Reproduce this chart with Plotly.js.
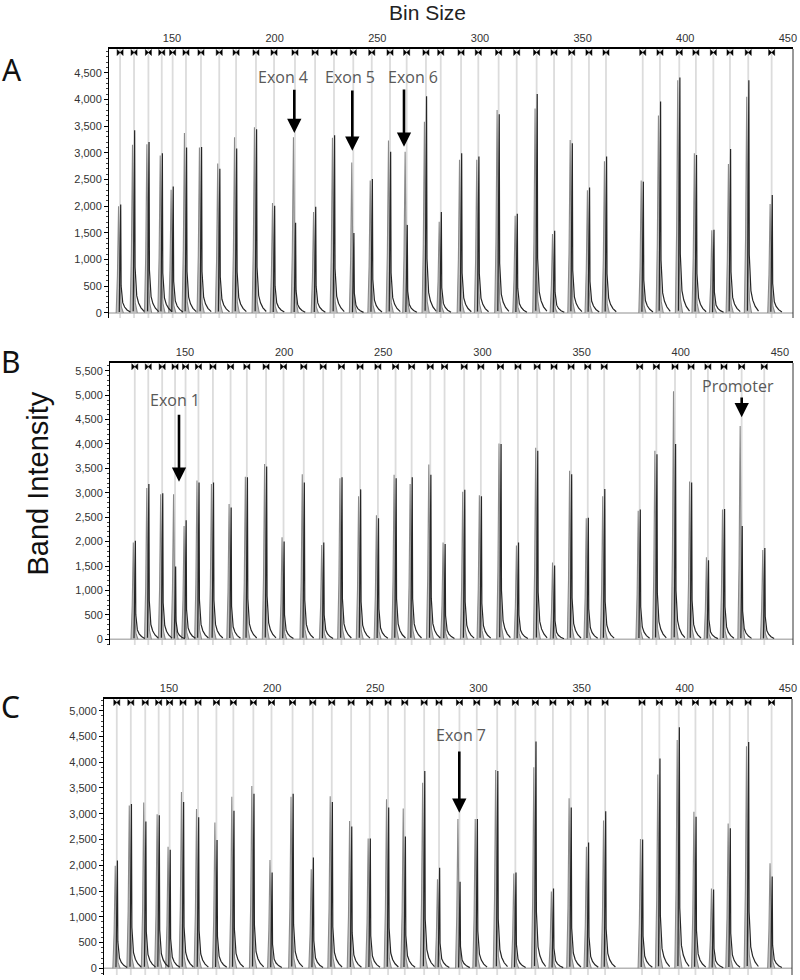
<!DOCTYPE html>
<html>
<head>
<meta charset="utf-8">
<script src="https://cdn.plot.ly/plotly-3.0.1.min.js"></script>
<style>html,body{margin:0;padding:0;background:#fff;}#chart{width:800px;height:980px;}</style>
</head>
<body>
<div id="chart"></div>
<script>
// Bin positions (fragment size, nt)
const bins = [124.7,131.5,138.5,145.0,150.3,156.8,164.1,173.0,181.2,190.9,199.7,209.9,219.7,228.9,238.3,247.3,256.2,264.3,273.7,280.9,290.8,299.2,309.1,317.9,327.6,336.1,344.7,353.1,361.4,379.3,387.7,397.1,405.2,413.7,421.8,430.7,442.1];
const xTicks = [150,200,250,300,350,400,450];

// Panel A peak heights
const refA = [2000,3150,3160,2950,2310,3370,3100,2800,3290,3480,2060,3290,1890,3280,2820,2480,3230,3020,3580,1710,2870,2870,3800,1820,3830,1480,3240,2300,2840,2480,3700,4360,2990,1550,2790,4050,2040];
const smpA = [2030,3420,3200,2990,2370,3100,3110,2700,3080,3440,2010,1690,1990,3330,1500,2510,3020,1650,4060,1890,2990,2930,3720,1860,4100,1540,3180,2350,2930,2460,3960,4410,2960,1560,3070,4360,2210];
// Panel B peak heights
const refB = [1980,3100,2970,2970,2320,3250,3180,2770,3330,3590,2090,3380,1930,3300,2930,2540,3370,3180,3580,1980,3020,2950,4010,1920,3920,1570,3450,2480,2930,2630,3860,5080,3230,1680,2660,4370,1830];
const smpB = [2020,3180,2990,1490,2440,3210,3210,2700,3320,3540,2000,3210,1980,3320,3070,2480,3300,3320,3370,1950,3060,2930,4000,1980,3860,1510,3380,2490,3080,2660,3790,4000,3210,1620,2670,2320,1870];
// Panel C peak heights
const refC = [1990,3160,3220,2990,2360,3420,3090,2830,3330,3540,2100,3330,1920,3340,2860,2520,3280,3100,3600,1730,2900,2900,3850,1840,3900,1490,3300,2360,2870,2510,3760,4430,3040,1550,2810,4310,2040];
const smpC = [2090,3190,2850,2970,2300,3230,2930,2490,3060,3390,1860,3390,2150,3230,2750,2520,3120,2560,3830,1950,1680,2900,3830,1860,4400,1550,3120,2440,3050,2500,4070,4680,2940,1530,2720,4390,1780];

// Peak glyph shapes (offset in nt, fraction of peak height)
const refShape = {dx:[-1.9,-1.3,-0.75,-0.45,-0.1,0.6,1.6], f:[0,0.35,1,0.55,0.25,0.06,0]};
const smpShape = {dx:[-0.4,0.3,0.5,0.8,1.3,2.2,3.4,5.0], f:[0.01,1,0.25,0.15,0.095,0.055,0.028,0.008]};

function peakPath(pos, h, shape){
  const x=[], y=[];
  pos.forEach((p,i)=>{
    shape.dx.forEach((d,j)=>{ x.push(p+d); y.push(h[i]*shape.f[j]); });
    x.push(null); y.push(null);
  });
  return {x, y};
}

const panels = [
  {ref:refA, smp:smpA, xr:[119.3,452.5], yr:[-94,4944], xd:[109/800,793/800], yd:[1-318/980,1-49/980]},
  {ref:refB, smp:smpB, xr:[112.2,456.6], yr:[-117,5658], xd:[110/800,793/800], yd:[1-645/980,1-363/980]},
  {ref:refC, smp:smpC, xr:[118.5,452.0], yr:[-130,5227], xd:[104/800,792/800], yd:[1-975/980,1-699/980]}
];

const data = [];
const layout = {
  width:800, height:980, margin:{l:0,r:0,t:0,b:0},
  paper_bgcolor:'#fff', plot_bgcolor:'#fff', showlegend:false,
  shapes:[], annotations:[]
};
const tickFont = {family:'Liberation Sans, Arial, sans-serif', size:11, color:'#333'};

panels.forEach((pn,k)=>{
  const sfx = k===0 ? '' : String(k+1);
  const xa = 'x'+sfx, ya = 'y'+sfx;
  const r = peakPath(bins, pn.ref, refShape);
  data.push({type:'scatter', mode:'lines', x:r.x, y:r.y, xaxis:xa, yaxis:ya,
    fill:'toself', fillcolor:'rgba(185,185,185,0.9)', line:{color:'#8a8a8a', width:1.1}, hoverinfo:'skip'});
  const s = peakPath(bins, pn.smp, smpShape);
  data.push({type:'scatter', mode:'lines', x:s.x, y:s.y, xaxis:xa, yaxis:ya,
    line:{color:'#262626', width:1.2}, hoverinfo:'skip'});
  const starY = pn.yr[1] - 0.013*(pn.yr[1]-pn.yr[0]);
  data.push({type:'scatter', mode:'markers', x:bins, y:bins.map(()=>starY), xaxis:xa, yaxis:ya,
    marker:{symbol:'bowtie', size:6, color:'#000', line:{color:'#000', width:0.5}}, cliponaxis:false, hoverinfo:'skip'});

  layout['xaxis'+sfx] = {domain:pn.xd, range:pn.xr, anchor:ya, side:'top', showline:true, linecolor:'#000', linewidth:2.5,
    ticks:'', tickvals:xTicks, tickfont:tickFont, showgrid:false, zeroline:false, fixedrange:true};
  layout['yaxis'+sfx] = {domain:pn.yd, range:pn.yr, anchor:xa, showline:true, linecolor:'#000', linewidth:1,
    ticks:'outside', ticklen:4, tickcolor:'#000', tick0:0, dtick:500, tickformat:',d', tickfont:tickFont,
    showgrid:false, zeroline:false, fixedrange:true,
    minor:{tick0:0, dtick:100, ticks:'outside', ticklen:2, tickcolor:'#444'}};

  bins.forEach(b=>{
    layout.shapes.push({type:'line', xref:xa, yref:ya+' domain', x0:b, x1:b, y0:0, y1:1, layer:'below',
      line:{color:'#dcdcdc', width:1.8}});
  });
  layout.shapes.push({type:'line', xref:xa+' domain', yref:ya, x0:0, x1:1, y0:0, y1:0, layer:'below',
    line:{color:'#b5b5b5', width:1.5}});
  layout.shapes.push({type:'line', xref:xa+' domain', yref:ya+' domain', x0:1, x1:1, y0:0, y1:1,
    line:{color:'#333', width:1}});
});

function P(px,py){ return {x:px/800, y:1-py/980}; }
function txt(t,px,py,font,extra){
  const p=P(px,py);
  layout.annotations.push(Object.assign({text:t, xref:'paper', yref:'paper', x:p.x, y:p.y,
    xanchor:'center', yanchor:'middle', showarrow:false, font:font}, extra||{}));
}
const letterFont = {family:'Noto Sans, Open Sans, sans-serif', size:30, color:'#111'};
const labFont = {family:'Open Sans, Noto Sans, sans-serif', size:16, color:'#595959'};

txt('Bin Size', 427.5, 12, {family:'Liberation Sans, Arial, sans-serif', size:21, color:'#222'});
txt('A', 11.5, 70, letterFont);
txt('B', 10.8, 361, letterFont);
txt('C', 10.5, 706, letterFont);
txt('Band Intensity', 37.5, 484, {family:'Liberation Sans, Arial, sans-serif', size:29, color:'#111'}, {textangle:-90});

txt('Exon 4', 283, 77, labFont);
txt('Exon 5', 350, 77, labFont);
txt('Exon 6', 413, 77, labFont);
txt('Exon 1', 175.3, 400, labFont);
txt('Promoter', 737.5, 386, labFont);
txt('Exon 7', 461, 735, labFont);

function arrow(px, tipY, tailY){
  const p=P(px,tipY);
  layout.annotations.push({text:'', xref:'paper', yref:'paper', x:p.x, y:p.y, ax:0, ay:tailY-tipY,
    showarrow:true, arrowhead:2, arrowsize:1.1, arrowwidth:2.6, arrowcolor:'#000'});
}
arrow(294.3,133,88.3);
arrow(352.3,150.7,89);
arrow(404,146.7,88);
arrow(179,481.7,413.3);
arrow(741.7,417.3,396);
arrow(459.3,812.7,750);

Plotly.newPlot('chart', data, layout, {displayModeBar:false, staticPlot:true});
</script>
</body>
</html>
